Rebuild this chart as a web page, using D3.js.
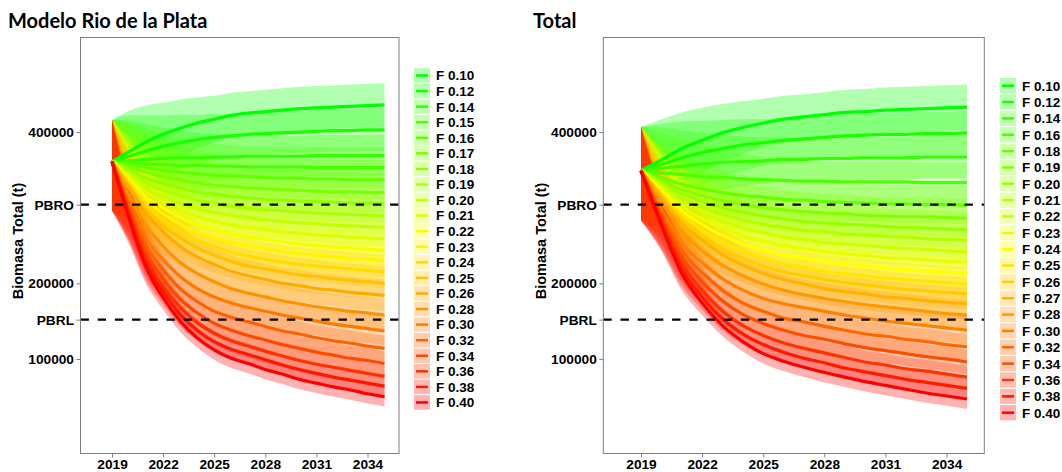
<!DOCTYPE html>
<html>
<head>
<meta charset="utf-8">
<script src="https://cdn.jsdelivr.net/npm/d3@7"></script>
<style>
  body { margin: 0; background: #fff; }
  svg { display: block; }
  text { font-family: "Liberation Sans", Arial, sans-serif; font-weight: bold; fill: #000; }
  .title { font-family: Lato, "Open Sans", sans-serif; font-weight: bold; }
</style>
</head>
<body>
<svg id="chart" width="1062" height="472"></svg>
<script>
// Projected total biomass by fishing mortality (F) scenario, in thousands of tonnes
const UNIT = 1000;
const years = [2019,2020,2021,2022,2023,2024,2025,2026,2027,2028,2029,2030,2031,2032,2033,2034,2035];
const xTickValues = [2019, 2022, 2025, 2028, 2031, 2034];
const yTickValues = [100000, 200000, 400000];
const refNames = ["PBRO", "PBRL"];
const refValues = [304000, 152000];
const yAxisTitle = "Biomasa Total (t)";

// Modelo Rio de la Plata
const rpTitle = "Modelo Rio de la Plata";
const rpF = ["F 0.10","F 0.12","F 0.14","F 0.15","F 0.16","F 0.17","F 0.18","F 0.19","F 0.20","F 0.21","F 0.22","F 0.23","F 0.24","F 0.25","F 0.26","F 0.28","F 0.30","F 0.32","F 0.34","F 0.36","F 0.38","F 0.40"];
const rpMed = [
  [361,374,387,397,405,412,417,422,425,427,429,431,432,433,434,435,436],
  [361,368,375,381,386,390,393,395,397,398,399,400,401,402,402,403,403],
  [361,362,364,365,366,366,367,367,368,368,368,368,369,369,369,369,369],
  [361,360,358,357,356,356,355,355,354,354,354,354,353,353,353,353,353],
  [361,357,353,349,347,345,343,342,341,340,339,339,338,338,337,337,337],
  [361,354,347,341,337,333,330,328,326,325,324,323,322,321,321,320,320],
  [361,350,339,332,326,321,318,315,313,311,310,309,308,307,306,306,305],
  [361,347,333,323,316,310,306,302,299,297,296,294,293,292,291,290,289],
  [361,344,327,315,306,299,294,290,287,284,282,280,279,277,276,275,274],
  [361,341,321,307,297,289,282,277,274,271,268,266,264,263,261,260,259],
  [361,338,315,300,287,278,271,265,261,258,255,252,250,248,247,245,244],
  [361,335,310,292,278,268,260,254,249,245,242,239,237,235,233,232,230],
  [361,332,304,284,269,257,249,241,236,232,228,225,223,221,219,217,215],
  [361,329,298,276,260,247,237,229,223,219,215,211,209,206,204,202,200],
  [361,326,292,268,249,235,225,216,210,205,200,197,193,191,188,186,184],
  [361,316,276,249,228,213,202,193,187,182,177,173,169,166,163,161,158],
  [361,307,260,231,209,193,182,174,168,163,158,154,150,146,143,140,137],
  [361,302,250,218,193,176,163,155,149,143,137,133,128,124,121,117,114],
  [361,297,241,206,179,161,147,138,131,125,119,114,109,105,101,98,94],
  [361,293,233,196,168,148,134,124,117,110,104,98,93,89,85,81,77],
  [361,290,227,189,159,138,123,113,106,99,92,86,81,76,72,68,64],
  [361,286,221,181,150,128,112,101,94,86,80,73,68,63,59,54,50]
];
const rpLo = [
  [296,320,339,355,367,378,386,392,396,398,400,402,403,404,405,406,407],
  [296,314,328,340,349,357,362,366,369,370,371,372,373,374,374,375,375],
  [296,309,317,324,330,333,337,339,341,341,341,341,342,342,342,342,342],
  [296,307,311,316,320,323,325,327,327,327,327,327,326,326,326,326,326],
  [296,304,307,309,311,313,314,315,315,314,313,313,312,312,311,311,311],
  [296,301,301,301,301,301,301,301,300,299,298,297,296,295,295,294,294],
  [296,304,301,299,297,294,292,290,288,286,285,284,283,282,281,281,280],
  [296,301,295,290,287,283,280,277,274,272,271,269,268,267,266,265,264],
  [296,298,289,283,278,273,269,266,263,260,258,256,255,253,252,251,250],
  [296,295,283,275,269,263,257,253,250,247,244,242,240,239,237,236,235],
  [296,293,278,269,260,253,247,242,238,235,232,229,227,225,224,222,221],
  [296,290,273,261,251,243,236,231,226,222,219,216,214,212,210,209,207],
  [296,287,268,254,242,233,226,219,214,210,206,203,201,199,197,195,193],
  [296,284,262,246,233,223,214,207,201,197,193,189,187,184,182,180,178],
  [296,282,256,238,223,212,203,195,189,184,179,176,172,170,167,165,163],
  [296,278,248,226,207,193,182,173,167,162,157,153,149,146,143,141,138],
  [296,270,233,209,189,174,163,155,149,144,139,135,131,127,124,121,118],
  [296,266,224,198,175,159,146,138,132,126,120,116,111,107,104,100,97],
  [296,261,216,187,162,145,131,122,115,109,103,98,93,89,85,82,78],
  [296,258,209,178,152,133,119,109,102,95,89,83,78,74,70,66,62],
  [296,255,204,172,144,124,109,99,92,85,78,72,67,62,58,54,50],
  [296,252,199,165,136,115,99,88,81,73,67,60,55,50,46,41,37]
];
const rpHi = [
  [416,428,435,439,443,446,448,452,454,456,458,460,461,462,463,464,465],
  [416,422,422,422,423,423,424,424,425,426,427,428,429,430,430,431,431],
  [416,415,411,406,402,399,397,395,395,395,395,395,396,396,396,396,396],
  [416,413,405,398,392,389,385,383,381,381,381,381,380,380,380,380,380],
  [416,410,399,389,383,377,372,369,367,366,365,365,364,364,363,363,363],
  [416,407,393,381,373,365,359,355,352,351,350,349,348,347,347,346,346],
  [416,396,377,365,355,348,344,340,338,336,335,334,333,332,331,331,330],
  [416,393,371,356,345,337,332,327,324,322,321,319,318,317,316,315,314],
  [416,390,365,347,334,325,319,314,311,308,306,304,303,301,300,299,298],
  [416,387,359,339,325,315,307,301,298,295,292,290,288,287,285,284,283],
  [416,383,352,331,314,303,295,288,284,281,278,275,273,271,270,268,267],
  [416,380,347,323,305,293,284,277,272,268,265,262,260,258,256,255,253],
  [416,377,340,314,296,281,272,263,258,254,250,247,245,243,241,239,237],
  [416,374,334,306,287,271,260,251,245,241,237,233,231,228,226,224,222],
  [416,370,328,298,275,258,247,237,231,226,221,218,214,212,209,207,205],
  [416,354,304,272,249,233,222,213,207,202,197,193,189,186,183,181,178],
  [416,344,287,253,229,212,201,193,187,182,177,173,169,165,162,159,156],
  [416,338,276,238,211,193,180,172,166,160,154,150,145,141,138,134,131],
  [416,333,266,225,196,177,163,154,147,141,135,130,125,121,117,114,110],
  [416,328,257,214,184,163,149,139,132,125,119,113,108,104,100,96,92],
  [416,325,250,206,174,152,137,127,120,113,106,100,95,90,86,82,78],
  [416,320,243,197,164,141,125,114,107,99,93,86,81,76,72,67,63]
];

// Total
const totTitle = "Total";
const totF = ["F 0.10","F 0.12","F 0.14","F 0.16","F 0.18","F 0.19","F 0.20","F 0.21","F 0.22","F 0.23","F 0.24","F 0.25","F 0.26","F 0.27","F 0.28","F 0.30","F 0.32","F 0.34","F 0.36","F 0.38","F 0.40"];
const totMed = [
  [349,363,378,389,399,406,412,417,420,423,426,427,429,430,431,432,433],
  [349,357,366,373,378,383,386,389,391,393,395,396,397,397,398,398,399],
  [349,352,355,358,360,361,362,364,364,365,365,366,366,366,367,367,367],
  [349,346,344,341,340,338,337,336,335,335,334,334,334,334,333,333,333],
  [349,340,331,325,320,316,314,311,310,308,307,306,305,305,304,304,303],
  [349,336,324,316,309,304,300,297,295,293,292,290,289,288,288,287,286],
  [349,333,319,308,300,294,289,285,282,280,278,277,275,274,273,272,271],
  [349,331,313,301,291,284,278,274,270,268,265,264,262,261,259,258,257],
  [349,328,307,293,282,273,267,261,258,254,252,250,248,246,245,243,242],
  [349,325,302,285,273,263,256,250,246,242,239,237,234,233,231,229,228],
  [349,322,296,278,263,252,244,237,233,229,226,223,220,218,216,215,213],
  [349,319,291,270,255,243,234,226,221,216,213,210,207,205,203,201,199],
  [349,316,285,263,246,233,223,215,210,205,201,198,195,192,190,188,186],
  [349,314,280,257,238,224,213,205,199,193,189,186,182,180,177,175,173],
  [349,307,269,243,224,210,199,191,185,180,176,172,169,166,163,160,158],
  [349,298,254,227,206,191,180,173,168,163,158,154,150,147,144,141,138],
  [349,293,244,214,191,174,163,154,149,143,138,133,130,126,123,119,116],
  [349,288,235,202,177,159,147,138,131,126,120,115,111,107,103,100,96],
  [349,283,226,191,163,144,131,121,114,108,102,96,92,87,84,80,76],
  [349,280,219,182,153,133,119,109,101,95,88,83,78,73,69,65,61],
  [349,277,213,174,144,123,107,97,89,82,76,70,65,60,55,51,47]
];
const totLo = [
  [283,309,330,346,361,371,380,386,390,393,396,397,399,400,401,402,403],
  [283,303,318,331,340,349,355,359,362,364,366,367,368,368,369,369,370],
  [283,298,308,317,323,328,331,335,336,337,337,338,338,338,339,339,339],
  [283,293,297,300,304,305,307,308,308,308,307,307,307,307,306,306,306],
  [283,294,293,292,291,289,288,286,285,283,282,281,280,280,279,279,278],
  [283,290,286,283,280,277,274,272,270,268,267,265,264,263,263,262,261],
  [283,287,281,276,272,268,264,261,258,256,254,253,251,250,249,248,247],
  [283,285,275,269,263,258,253,250,246,244,241,240,238,237,235,234,233],
  [283,283,270,262,255,248,243,238,235,231,229,227,225,223,222,220,219],
  [283,280,265,254,246,238,232,227,223,219,216,214,211,210,208,206,205],
  [283,277,260,248,236,228,221,215,211,207,204,201,198,196,194,193,191],
  [283,274,255,240,228,219,211,204,199,194,191,188,185,183,181,179,177],
  [283,272,249,233,220,210,201,194,189,184,180,177,174,171,169,167,165],
  [283,270,244,227,212,201,191,184,178,172,168,165,161,159,156,154,152],
  [283,269,241,220,203,190,179,171,165,160,156,152,149,146,143,140,138],
  [283,261,227,205,186,172,161,154,149,144,139,135,131,128,125,122,119],
  [283,257,218,194,173,157,146,137,132,126,121,116,113,109,106,102,99],
  [283,252,210,183,160,143,131,122,115,110,104,99,95,91,87,84,80],
  [283,248,202,173,147,129,116,106,99,93,87,81,77,72,69,65,61],
  [283,245,196,165,138,119,105,95,87,81,74,69,64,59,55,51,47],
  [283,243,191,158,130,110,94,84,76,69,63,57,52,47,42,38,34]
];
const totHi = [
  [407,417,426,432,437,441,444,448,450,453,456,457,459,460,461,462,463],
  [407,411,414,415,416,417,417,419,420,422,424,425,426,426,427,427,428],
  [407,406,402,399,397,394,393,393,392,393,393,394,394,394,395,395,395],
  [407,399,391,382,376,371,367,364,362,362,361,361,361,361,360,360,360],
  [407,386,369,358,349,343,340,336,335,333,332,331,330,330,329,329,328],
  [407,382,362,349,338,331,326,322,320,318,317,315,314,313,313,312,311],
  [407,379,357,340,328,320,314,309,306,304,302,301,299,298,297,296,295],
  [407,377,351,333,319,310,303,298,294,292,289,288,286,285,283,282,281],
  [407,373,344,324,309,298,291,284,281,277,275,273,271,269,268,266,265],
  [407,370,339,316,300,288,280,273,269,265,262,260,257,256,254,252,251],
  [407,367,332,308,290,276,267,259,255,251,248,245,242,240,238,237,235],
  [407,364,327,300,282,267,257,248,243,238,235,232,229,227,225,223,221],
  [407,360,321,293,272,256,245,236,231,226,222,219,216,213,211,209,207],
  [407,358,316,287,264,247,235,226,220,214,210,207,203,201,198,196,194],
  [407,345,297,266,245,230,219,211,205,200,196,192,189,186,183,180,178],
  [407,335,281,249,226,210,199,192,187,182,177,173,169,166,163,160,157],
  [407,329,270,234,209,191,180,171,166,160,155,150,147,143,140,136,133],
  [407,324,260,221,194,175,163,154,147,142,136,131,127,123,119,116,112],
  [407,318,250,209,179,159,146,136,129,123,117,111,107,102,99,95,91],
  [407,315,242,199,168,147,133,123,115,109,102,97,92,87,83,79,75],
  [407,311,235,190,158,136,120,110,102,95,89,83,78,73,68,64,60]
];

const xDomain = [2017.15, 2035.85];
const yDomain = [-25000, 525000];
const ramp = d3.piecewise(d3.interpolateRgb, ["#00ff00", "#ffff00", "#ff0000"]);

const svg = d3.select("#chart");
svg.append("rect").attr("width", 1062).attr("height", 472).attr("fill", "#fff");

function drawPanel(p) {
  const x = d3.scaleLinear().domain(xDomain).range([p.x0, p.x1]);
  const y = d3.scaleLinear().domain(yDomain).range([p.y1, p.y0]);
  const n = p.F.length;
  const color = i => ramp(i / (n - 1));
  const g = svg.append("g");

  // uncertainty ribbons
  const area = d3.area()
    .curve(d3.curveMonotoneX)
    .x((d, j) => x(years[j]))
    .y0(d => y(d[0] * UNIT))
    .y1(d => y(d[1] * UNIT));
  p.F.forEach((f, i) => {
    const band = p.lo[i].map((v, j) => [v, p.hi[i][j]]);
    g.append("path").attr("d", area(band))
      .attr("fill", color(i)).attr("fill-opacity", 0.3);
  });

  // median trajectories
  const line = d3.line().curve(d3.curveMonotoneX)
    .x((d, j) => x(years[j])).y(d => y(d * UNIT));
  p.F.forEach((f, i) => {
    g.append("path").attr("d", line(p.med[i]))
      .attr("fill", "none").attr("stroke", color(i)).attr("stroke-width", 3.2);
  });

  // biological reference points
  refValues.forEach(v => {
    g.append("line")
      .attr("x1", p.x0).attr("x2", p.x1).attr("y1", y(v)).attr("y2", y(v))
      .attr("stroke", "#000").attr("stroke-width", 2.3)
      .attr("stroke-dasharray", "8.4,8.8");
  });

  // panel border
  g.append("rect")
    .attr("x", p.x0).attr("y", p.y0)
    .attr("width", p.x1 - p.x0).attr("height", p.y1 - p.y0)
    .attr("fill", "none").attr("stroke", "#7f7f7f").attr("stroke-width", 1);

  // axes
  const fmt = d3.format("d");
  const yAxis = d3.axisLeft(y)
    .tickValues(yTickValues.concat(refValues))
    .tickSize(4).tickPadding(2.5)
    .tickFormat(d => { const k = refValues.indexOf(d); return k >= 0 ? refNames[k] : fmt(d); });
  const ya = g.append("g").attr("transform", `translate(${p.x0},0)`).call(yAxis);
  const xAxis = d3.axisBottom(x).tickValues(xTickValues).tickSize(4).tickPadding(1.8).tickFormat(fmt);
  const xa = g.append("g").attr("transform", `translate(0,${p.y1})`).call(xAxis);
  [ya, xa].forEach(a => {
    a.attr("font-family", null).attr("font-size", null);
    a.select(".domain").remove();
    a.selectAll(".tick line").attr("stroke", "#7f7f7f");
    a.selectAll(".tick text").style("font-size", "13.7px").attr("fill", "#000");
  });

  // axis title
  g.append("text")
    .attr("transform", `translate(${p.yTitleX},${p.yTitleY}) rotate(-90)`)
    .attr("text-anchor", "middle").style("font-size", "14.5px")
    .text(yAxisTitle);

  // panel title
  g.append("text").attr("class", "title")
    .attr("x", p.titleX).attr("y", 27.5).style("font-size", "20px")
    .text(p.title);

  // legend
  const lg = g.append("g");
  p.F.forEach((f, i) => {
    const cy = p.legY + i * p.legStep;
    lg.append("rect")
      .attr("x", p.legX).attr("y", cy - p.legStep / 2 + 0.5)
      .attr("width", 16).attr("height", p.legStep - 1)
      .attr("fill", color(i)).attr("fill-opacity", 0.3);
    lg.append("line")
      .attr("x1", p.legX + 2).attr("x2", p.legX + 14)
      .attr("y1", cy).attr("y2", cy)
      .attr("stroke", color(i)).attr("stroke-width", 2.5);
    lg.append("text")
      .attr("x", p.legX + 22).attr("y", cy).attr("dy", "0.36em")
      .style("font-size", "13.5px")
      .text(f);
  });
}

drawPanel({
  title: rpTitle, F: rpF, med: rpMed, lo: rpLo, hi: rpHi,
  x0: 80.5, x1: 399, y0: 37.5, y1: 453.5,
  titleX: 8, yTitleX: 23, yTitleY: 241,
  legX: 414, legY: 75.5, legStep: 15.57
});
drawPanel({
  title: totTitle, F: totF, med: totMed, lo: totLo, hi: totHi,
  x0: 603.3, x1: 984.3, y0: 37.5, y1: 453.5,
  titleX: 533, yTitleX: 546, yTitleY: 241,
  legX: 1000, legY: 85.7, legStep: 16.35
});
</script>
</body>
</html>
